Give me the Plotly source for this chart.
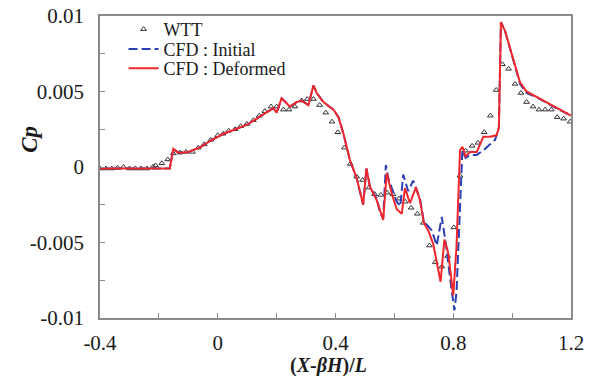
import plotly.graph_objects as go

# Wind-tunnel test (WTT) pressure coefficients
wtt_x = [-0.4, -0.38, -0.36, -0.34, -0.32, -0.30, -0.28, -0.26, -0.24, -0.22,
         -0.211, -0.19, -0.17, -0.151, -0.128, -0.108, -0.086, -0.066, -0.046, -0.024,
         0.0, 0.018, 0.037, 0.059, 0.078, 0.099, 0.121, 0.141, 0.16, 0.181,
         0.2, 0.223, 0.242, 0.262, 0.285, 0.304, 0.325, 0.346, 0.367, 0.388,
         0.408, 0.43, 0.45, 0.472, 0.492, 0.513, 0.533, 0.554, 0.575, 0.595,
         0.616, 0.637, 0.657, 0.678, 0.698, 0.719, 0.739, 0.761, 0.781, 0.802,
         0.823, 0.842, 0.864, 0.884, 0.905, 0.926, 0.946, 0.967, 0.988, 1.01,
         1.03, 1.049, 1.071, 1.091, 1.112, 1.133, 1.153, 1.175, 1.197]
wtt_cp = [-0.0001, -0.0001, -0.0001, -0.00005, 0.0, -0.0001, -0.0001, -0.0001, -0.0001, 0.00002,
          0.0001, 0.00025, 0.0005, 0.0009, 0.00095, 0.001, 0.001, 0.00128, 0.0015, 0.0018,
          0.0021, 0.0022, 0.0024, 0.0025, 0.0027, 0.00285, 0.0031, 0.0034, 0.0037, 0.004,
          0.004, 0.0038, 0.0038, 0.004, 0.0044, 0.0045, 0.0045, 0.0041, 0.0036, 0.003,
          0.0023, 0.00128, 0.0002, -0.00064, -0.00086, -0.00137, -0.0018, -0.00185, -0.0017, -0.0018,
          -0.0021, -0.0023, -0.0027, -0.0031, -0.0037, -0.0052, -0.0063, -0.0066, -0.0059, -0.004,
          -0.00058, 0.00108, 0.0014, 0.0016, 0.0023, 0.0034, 0.0051, 0.0068, 0.0065, 0.0055,
          0.0049, 0.0043, 0.004, 0.0038, 0.0038, 0.0038, 0.0033, 0.0032, 0.003]

# CFD, initial geometry
init_x = [-0.4, -0.3, -0.2, -0.163, -0.151, -0.134, -0.1, -0.06, -0.02, 0.02,
          0.06, 0.1, 0.14, 0.17, 0.189, 0.2, 0.217, 0.23, 0.245, 0.268,
          0.285, 0.308, 0.325, 0.336, 0.359, 0.393, 0.41, 0.427, 0.449, 0.472,
          0.494, 0.505, 0.517, 0.54, 0.551, 0.562, 0.571, 0.58, 0.608, 0.62,
          0.63, 0.647, 0.664, 0.687, 0.7, 0.727, 0.744, 0.761, 0.775, 0.79,
          0.804, 0.811, 0.82, 0.831, 0.842, 0.857, 0.88, 0.902, 0.925, 0.942,
          0.955, 0.962, 0.976, 1.004, 1.027, 1.049, 1.095, 1.14, 1.2]
init_cp = [-0.0001, -0.0001, -0.0001, -0.0001, 0.0012, 0.00095, 0.001, 0.0013, 0.0018, 0.0022,
           0.0025, 0.0028, 0.0033, 0.0037, 0.0039, 0.0036, 0.00455, 0.0043, 0.004, 0.0043,
           0.0044, 0.0041, 0.0054, 0.0049, 0.0043, 0.0038, 0.0033, 0.0022, 0.00046, -0.00075,
           -0.0025, -0.0001, -0.0013, -0.0021, -0.003, -0.0034, 0.00013, -0.0008, -0.0023, -0.0026,
           -0.0005, -0.0016, -0.0009, -0.0021, -0.0036, -0.0042, -0.0052, -0.0033, -0.0051, -0.0075,
           -0.0095, -0.0083, -0.0044, 0.0011, 0.0006, 0.0008, 0.0008, 0.0011, 0.0015, 0.0018,
           0.0026, 0.0096, 0.009, 0.007, 0.0055, 0.0049, 0.0045, 0.004, 0.0034]

# CFD, deformed geometry
def_x = [-0.4, -0.3, -0.2, -0.163, -0.151, -0.134, -0.1, -0.06, -0.02, 0.02,
         0.06, 0.1, 0.14, 0.17, 0.189, 0.2, 0.217, 0.23, 0.245, 0.268,
         0.285, 0.308, 0.325, 0.336, 0.359, 0.393, 0.41, 0.427, 0.449, 0.472,
         0.494, 0.505, 0.517, 0.54, 0.562, 0.574, 0.591, 0.608, 0.625, 0.636,
         0.653, 0.673, 0.687, 0.7, 0.715, 0.732, 0.757, 0.77, 0.783, 0.8,
         0.811, 0.823, 0.831, 0.842, 0.857, 0.88, 0.902, 0.925, 0.947, 0.955,
         0.962, 0.976, 1.004, 1.027, 1.049, 1.095, 1.14, 1.2]
def_cp = [-0.0001, -0.0001, -0.0001, -0.0001, 0.0012, 0.00095, 0.001, 0.0013, 0.0018, 0.0022,
          0.0025, 0.0028, 0.0033, 0.0037, 0.0039, 0.0036, 0.00455, 0.0043, 0.004, 0.0043,
          0.0044, 0.0041, 0.0054, 0.0049, 0.0043, 0.0038, 0.0033, 0.0022, 0.00046, -0.00075,
          -0.0025, -0.0001, -0.0013, -0.0022, -0.0035, -0.0004, -0.00175, -0.0028, -0.0031, -0.0014,
          -0.0024, -0.00135, -0.0022, -0.0037, -0.0042, -0.0051, -0.0076, -0.0048, -0.0057, -0.0085,
          -0.0053, 0.0011, 0.00134, 0.0007, 0.001, 0.001, 0.002, 0.002, 0.0021, 0.0026,
          0.0096, 0.009, 0.0071, 0.0056, 0.005, 0.0045, 0.004, 0.0034]

x_tickvals = [-0.4, 0, 0.4, 0.8, 1.2]
x_ticktext = ["-0.4", "0", "0.4", "0.8", "1.2"]
y_tickvals = [-0.01, -0.005, 0, 0.005, 0.01]
y_ticktext = ["-0.01", "-0.005", "0", "0.005", "0.01"]

FONT = "Liberation Serif"
AXIS_GRAY = "#8a8a8a"
TEXT = "#1a1a1a"

fig = go.Figure()
fig.add_trace(go.Scatter(
    x=wtt_x, y=wtt_cp, mode="markers", name="WTT", legend="legend",
    marker=dict(symbol="triangle-up-open", size=5, color="#333333",
                line=dict(width=1, color="#333333")),
))
fig.add_trace(go.Scatter(
    x=init_x, y=init_cp, mode="lines", name="CFD : Initial", legend="legend2",
    line=dict(color="#2b3fb5", width=2, dash="9px,4px"),
))
fig.add_trace(go.Scatter(
    x=def_x, y=def_cp, mode="lines", name="CFD : Deformed", legend="legend3",
    line=dict(color="#f0262b", width=2),
))

axis_common = dict(
    showline=True, linecolor=AXIS_GRAY, linewidth=1.5, mirror=True,
    showgrid=False, zeroline=False, automargin=False,
    ticks="inside", ticklen=5, tickcolor=AXIS_GRAY, tickwidth=1.2,
    tickfont=dict(family=FONT, size=21, color=TEXT),
)

fig.update_xaxes(
    range=[-0.4, 1.2], tickmode="array", tickvals=x_tickvals, ticktext=x_ticktext,
    minor=dict(dtick=0.2, tick0=0, ticks="inside", ticklen=5, tickcolor=AXIS_GRAY, tickwidth=1.2),
    ticklabelstandoff=5,
    **axis_common,
)
fig.update_yaxes(
    range=[-0.01, 0.01], tickmode="array", tickvals=y_tickvals, ticktext=y_ticktext,
    minor=dict(dtick=0.0025, tick0=0, ticks="inside", ticklen=5, tickcolor=AXIS_GRAY, tickwidth=1.2),
    ticklabelstandoff=10,
    **axis_common,
)

# one legend box per entry so the rows sit at their own heights
def legend_box(ypos):
    return dict(
        x=0.050, y=ypos, xanchor="left", yanchor="top",
        bgcolor="rgba(0,0,0,0)", borderwidth=0,
        font=dict(family=FONT, size=18, color=TEXT),
        itemwidth=30,
    )

fig.update_layout(
    width=595, height=376,
    margin=dict(l=100, r=24, t=16, b=58, autoexpand=False),
    paper_bgcolor="white", plot_bgcolor="white",
    font=dict(family=FONT, color=TEXT),
    showlegend=True,
    legend=legend_box(1.0166),
    legend2=legend_box(0.951),
    legend3=legend_box(0.887),
    annotations=[
        dict(text="<b><i>Cp</i></b>", xref="paper", yref="paper",
             x=-0.1486, y=0.59, xanchor="center", yanchor="middle",
             textangle=-90, showarrow=False,
             font=dict(family=FONT, size=23, color=TEXT)),
        dict(text="<b>(<i>X</i>-<i>βH</i>)/<i>L</i></b>", xref="paper", yref="paper",
             x=0.486, y=-0.156, xanchor="center", yanchor="middle", showarrow=False,
             font=dict(family=FONT, size=20, color=TEXT)),
    ],
)

fig.write_html("out.html")
